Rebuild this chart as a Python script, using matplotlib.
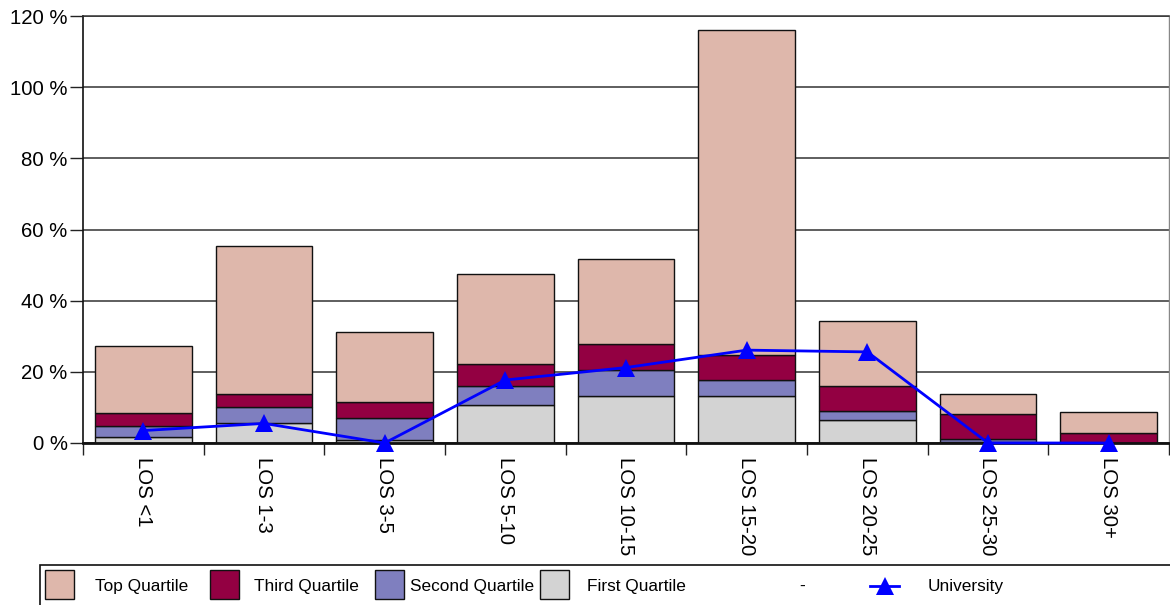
import matplotlib
matplotlib.use("Agg")
import matplotlib.pyplot as plt
import numpy as np
from matplotlib.patches import Rectangle
from matplotlib.lines import Line2D

plt.rcParams['font.family'] = ['Liberation Sans', 'DejaVu Sans']

categories = ["LOS <1", "LOS 1-3", "LOS 3-5", "LOS 5-10", "LOS 10-15",
              "LOS 15-20", "LOS 20-25", "LOS 25-30", "LOS 30+"]

# Upper edge of each quartile band (cumulative levels, %)
first_quartile = [1.8, 5.7, 0.95, 10.7, 13.3, 13.3, 6.6, 0.3, 0.0]
second_quartile = [4.9, 10.0, 7.0, 16.1, 20.6, 17.7, 9.0, 1.1, 0.0]
third_quartile = [8.45, 13.7, 11.5, 22.3, 27.8, 24.7, 16.0, 8.2, 2.8]
top_quartile = [27.3, 55.5, 31.3, 47.6, 51.7, 116.0, 34.2, 13.7, 8.6]

university = [3.5, 5.5, 0.0, 17.7, 21.2, 26.1, 25.6, 0.0, 0.0]

y_ticks = [0, 20, 40, 60, 80, 100, 120]

colors = {
    "Top Quartile": "#DEB7AB",
    "Third Quartile": "#930042",
    "Second Quartile": "#7F7FBF",
    "First Quartile": "#D3D3D3",
}

W, H = 1170, 605
fig = plt.figure(figsize=(W / 100, H / 100), dpi=100)
ax = fig.add_axes([83 / W, 1 - 443 / H, (1169 - 83) / W, (443 - 16) / H])

x = np.arange(len(categories))
levels = [("First Quartile", first_quartile),
          ("Second Quartile", second_quartile),
          ("Third Quartile", third_quartile),
          ("Top Quartile", top_quartile)]
bottom = np.zeros(len(categories))
for name, lev in levels:
    lev = np.asarray(lev, dtype=float)
    ax.bar(x, lev - bottom, bottom=bottom, width=0.8, color=colors[name],
           edgecolor="#111111", linewidth=1.0, zorder=2)
    bottom = lev

ax.plot(x, university, color="#0000FF", linewidth=2.0, marker="^",
        markersize=13, markeredgewidth=0, zorder=5, clip_on=False)

ax.set_xlim(-0.5, len(categories) - 0.5)
ax.set_ylim(0, 120)

# y axis
ax.set_yticks(y_ticks)
ax.set_yticklabels([f"{v} %" for v in y_ticks], fontsize=14.7)
ax.tick_params(axis="y", direction="out", length=9.5, width=1.0, pad=1.5,
               color="#222222")
ax.yaxis.grid(True, color="#333333", linewidth=1.1, zorder=0)
ax.set_axisbelow(True)

# x axis: separator ticks between categories, labels at centres
ax.set_xticks(np.arange(-0.5, len(categories), 1.0))
ax.set_xticklabels([])
ax.set_xticks(x, minor=True)
ax.set_xticklabels(categories, minor=True, rotation=-90, fontsize=14.7)
ax.tick_params(axis="x", which="major", direction="out", length=8.8,
               width=1.0, color="#222222")
ax.tick_params(axis="x", which="minor", length=0, pad=10)

for side in ("left", "bottom"):
    ax.spines[side].set_color("#111111")
ax.spines["left"].set_linewidth(1.2)
ax.spines["bottom"].set_linewidth(2.0)
ax.spines["bottom"].set_zorder(4)
ax.spines["top"].set_color("#333333")
ax.spines["top"].set_linewidth(1.1)
ax.spines["right"].set_color("#888888")
ax.spines["right"].set_linewidth(1.0)

# legend panel along the bottom edge
def fx(px):
    return px / W

def fy(py):
    return 1 - py / H

fig.add_artist(Rectangle((fx(40), fy(620)), fx(1200) - fx(40), fy(565) - fy(620),
                         transform=fig.transFigure, facecolor="white",
                         edgecolor="#111111", linewidth=1.2))

legend_items = [("Top Quartile", 45, 95), ("Third Quartile", 210, 254),
                ("Second Quartile", 375, 410), ("First Quartile", 540, 587)]
for name, px, tx in legend_items:
    fig.add_artist(Rectangle((fx(px), fy(599)), fx(29), 29 / H,
                             transform=fig.transFigure, facecolor=colors[name],
                             edgecolor="#111111", linewidth=1.0))
    fig.text(fx(tx), fy(586), name, fontsize=12.4, va="center", ha="left")

fig.text(fx(802), fy(586), "-", fontsize=12.4, va="center", ha="center")
fig.add_artist(Line2D([fx(870), fx(899)], [fy(586), fy(586)],
                      transform=fig.transFigure, color="#0000FF", linewidth=2.0))
fig.add_artist(Line2D([fx(884.5)], [fy(586)], transform=fig.transFigure,
                      color="#0000FF", marker="^", markersize=13,
                      markeredgewidth=0))
fig.text(fx(928), fy(586), "University", fontsize=12.4, va="center", ha="left")

fig.savefig("out.png", dpi=100)
